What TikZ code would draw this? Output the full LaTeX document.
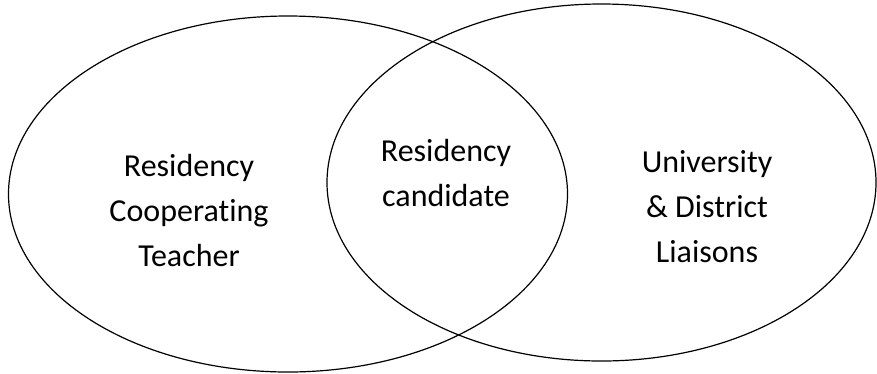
\documentclass[tikz,border=0pt]{standalone}
\usepackage{fontspec}
\setmainfont{Carlito}[Ligatures=CommonOff]
\usetikzlibrary{shapes.geometric}
\begin{document}
\begin{tikzpicture}[x=1pt, y=-1pt,
  set/.style={draw, ellipse, line width=1.2pt, inner sep=0pt},
  label/.style={align=center, font=\fontsize{32}{45}\selectfont}
]
  \useasboundingbox (0,0) rectangle (877,373);
  \node[set, minimum width=559pt, minimum height=356pt] (coop) at (288,194) {};
  \node[set, minimum width=549pt, minimum height=357pt] (liaison) at (601.5,182.5) {};
  \node[label] (coopText)    at (189,210) {Residency\\Cooperating\\Teacher};
  \node[label] (candText)    at (446,173) {Residency\\candidate};
  \node[label] (liaisonText) at (707,207) {University\\\& District\\Liaisons};
\end{tikzpicture}
\end{document}
